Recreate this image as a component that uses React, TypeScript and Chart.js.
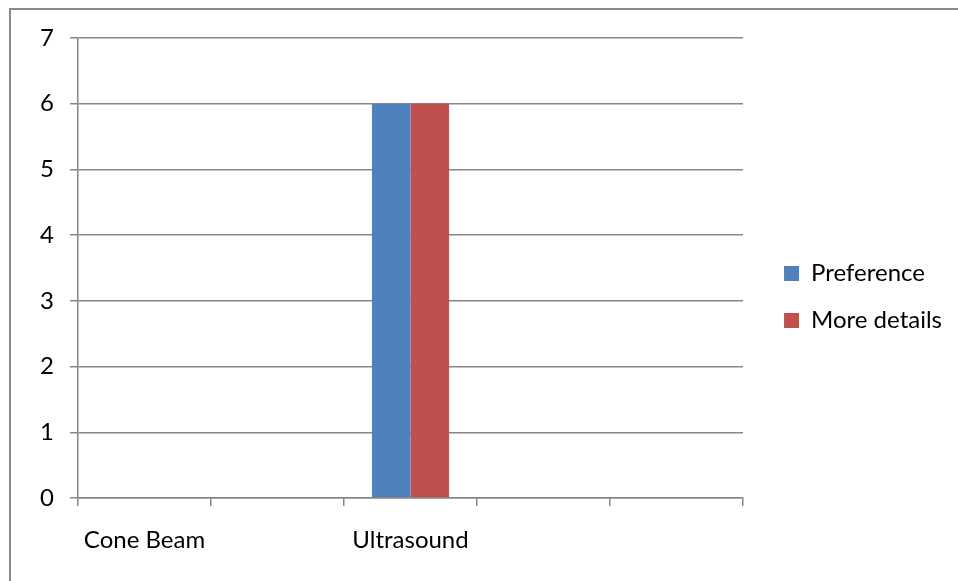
import React, { useEffect, useRef } from "react";
import { Chart, registerables } from "chart.js";

Chart.register(...registerables);

const categories = ["Cone Beam", "", "Ultrasound", "", ""];
const preferenceValues = [0, 0, 6, 0, 0];
const moreDetailsValues = [0, 0, 6, 0, 0];
const seriesNames = ["Preference", "More details"];
const yTicks = [0, 1, 2, 3, 4, 5, 6, 7];

const FONT = "Lato, 'Open Sans', sans-serif";
const GRID = "#878787";

const legendShift = {
  id: "legendShift",
  afterLayout(chart: any) {
    const lg = chart.legend;
    if (!lg) return;
    const target = chart.chartArea.right + 18;
    const dx = target - lg.left;
    lg.left += dx;
    lg.right += dx;
  },
};

export default function App() {
  const ref = useRef<HTMLCanvasElement | null>(null);

  useEffect(() => {
    if (!ref.current) return;
    const chart = new Chart(ref.current, {
      type: "bar",
      data: {
        labels: categories,
        datasets: [
          {
            label: seriesNames[0],
            data: preferenceValues,
            backgroundColor: "#4F81BD",
            borderWidth: 0,
          },
          {
            label: seriesNames[1],
            data: moreDetailsValues,
            backgroundColor: "#C0504D",
            borderWidth: 0,
          },
        ],
      },
      plugins: [legendShift],
      options: {
        animation: false,
        responsive: false,
        maintainAspectRatio: false,
        layout: { padding: { top: 38, bottom: 25, left: 0, right: 24 } },
        plugins: {
          tooltip: { enabled: false },
          legend: {
            position: "right",
            align: "center",
            labels: {
              boxWidth: 15,
              boxHeight: 15,
              padding: 23,
              color: "#000",
              font: { family: FONT, size: 24 },
            },
          },
        },
        datasets: {
          bar: { categoryPercentage: 0.58, barPercentage: 1 },
        },
        scales: {
          x: {
            afterFit: (scale: any) => {
              scale.height = 58;
            },
            grid: {
              offset: true,
              drawOnChartArea: false,
              drawTicks: true,
              tickLength: 8,
              color: GRID,
              lineWidth: 1.5,
            },
            border: { color: GRID, width: 1.5 },
            ticks: {
              color: "#000",
              font: { family: FONT, size: 24 },
              padding: 20,
              maxRotation: 0,
              autoSkip: false,
            },
          },
          y: {
            min: 0,
            max: 7,
            afterBuildTicks: (scale: any) => {
              scale.ticks = yTicks.map((v) => ({ value: v }));
            },
            afterFit: (scale: any) => {
              scale.width = 78;
            },
            grid: {
              color: GRID,
              lineWidth: 1.5,
              drawTicks: true,
              tickLength: 8,
            },
            border: { color: GRID, width: 1.5 },
            ticks: {
              color: "#000",
              font: { family: FONT, size: 24 },
              padding: 16,
            },
          },
        },
      },
    });
    return () => chart.destroy();
  }, []);

  return (
    <div
      style={{
        position: "fixed",
        left: 0,
        top: 0,
        width: 958,
        height: 581,
        overflow: "hidden",
        background: "#fff",
      }}
    >
      <canvas ref={ref} width={958} height={581} style={{ display: "block" }} />
      <div
        style={{
          position: "absolute",
          left: 9,
          top: 8,
          width: 1200,
          height: 1200,
          border: "2px solid #8a8a8a",
          pointerEvents: "none",
        }}
      />
    </div>
  );
}
